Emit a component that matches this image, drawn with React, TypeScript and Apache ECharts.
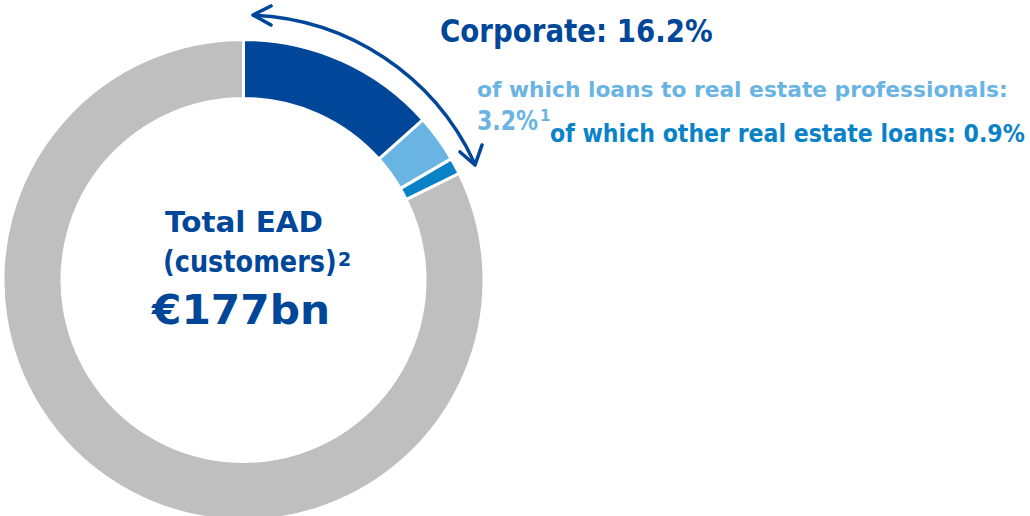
import React, { useEffect, useRef } from "react";
import * as echarts from "echarts";

// ---- data ----
const categories = [
  "Corporate (excl. real estate)",
  "Loans to real estate professionals",
  "Other real estate loans",
  "Other customers",
];
const shares = [13.4, 3.2, 1.1, 82.3];
const segmentColors = ["#00479A", "#6AB4E4", "#0A82C8", "#BFBFBF"];

const corporateLabel = "Corporate: 16.2%";
const reProLabel = "of which loans to real estate professionals:";
const reProValue = "3.2%";
const reProNote = "1";
const otherReLabel = "of which other real estate loans: 0.9%";
const centerLine1 = "Total EAD";
const centerLine2 = "(customers)";
const centerNote = "2";
const centerValue = "€177bn";

const FONT = '"DejaVu Sans", sans-serif';
const DARK = "#00479A";
const LIGHT = "#6AB4E4";
const MID = "#0A82C8";

let ctx: CanvasRenderingContext2D | null = null;
function measure(text: string, size: number, weight = "bold") {
  if (!ctx) ctx = document.createElement("canvas").getContext("2d");
  ctx!.font = `${weight} ${size}px ${FONT}`;
  return ctx!.measureText(text).width;
}

const K = 0.35; // central baseline offset (em) above alphabetic baseline

function txt(
  text: string,
  x: number,
  baseline: number,
  size: number,
  color: string,
  width?: number,
  align: "left" | "center" = "left"
) {
  const sx = width ? width / measure(text, size) : 1;
  return {
    type: "text",
    x,
    y: baseline - K * size,
    scaleX: sx,
    silent: true,
    style: {
      text,
      x: 0,
      y: 0,
      fontSize: size,
      fontWeight: "bold",
      fontFamily: FONT,
      fill: color,
      textAlign: align,
      textVerticalAlign: "middle",
      verticalAlign: "middle",
    },
  };
}

export default function App() {
  const ref = useRef<HTMLDivElement>(null);
  useEffect(() => {
    if (!ref.current) return;
    const chart = echarts.init(ref.current, undefined, { renderer: "svg" });
    chart.setOption({
      animation: false,
      series: [
        {
          type: "pie",
          center: [243.5, 280],
          radius: [181.5, 240.5],
          startAngle: 90,
          clockwise: true,
          silent: true,
          label: { show: false },
          labelLine: { show: false },
          itemStyle: { borderColor: "#ffffff", borderWidth: 3 },
          data: categories.map((name, i) => ({
            name,
            value: shares[i],
            itemStyle: { color: segmentColors[i] },
          })),
        },
      ],
      graphic: [
        {
          type: "arc",
          silent: true,
          shape: { cx: 243, cy: 270, r: 255, startAngle: -1.53, endAngle: -0.44, clockwise: true },
          style: { stroke: DARK, lineWidth: 3.4, fill: "none", lineCap: "round" },
        },
        {
          type: "polyline",
          silent: true,
          shape: { points: [[271, 6], [253, 15], [271, 25]] },
          style: { stroke: DARK, lineWidth: 3.6, fill: "none", lineCap: "round", lineJoin: "round" },
        },
        {
          type: "polyline",
          silent: true,
          shape: { points: [[460, 152], [475, 165], [482, 145]] },
          style: { stroke: DARK, lineWidth: 3.6, fill: "none", lineCap: "round", lineJoin: "round" },
        },
        txt(corporateLabel, 440, 42, 32, DARK, 273),
        txt(reProLabel, 477, 97, 21, LIGHT, 531),
        txt(reProValue, 477, 130, 27, LIGHT, 61),
        txt(reProNote, 540, 121, 15, LIGHT),
        txt(otherReLabel, 550, 142, 25, MID, 475),
        txt(centerLine1, 244, 232, 29, DARK, 158, "center"),
        txt(centerLine2, 163, 272, 30, DARK, 174),
        txt(centerNote, 338, 266, 19, DARK),
        txt(centerValue, 241, 324, 41, DARK, 178, "center"),
      ],
    });
    return () => chart.dispose();
  }, []);
  return (
    <div
      ref={ref}
      style={{ position: "absolute", left: 0, top: 0, width: 1030, height: 516 }}
    />
  );
}
